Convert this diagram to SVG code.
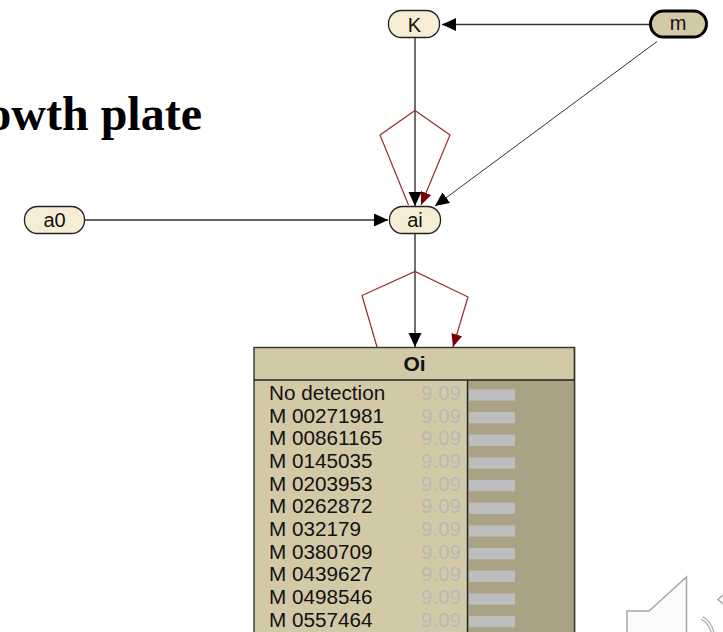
<svg xmlns="http://www.w3.org/2000/svg" width="723" height="632" viewBox="0 0 723 632">
<defs>
<marker id="ab" markerUnits="userSpaceOnUse" markerWidth="15" markerHeight="14" refX="14" refY="6.5" orient="auto"><path d="M0,0 L14,6.5 L0,13 Z" fill="#000"/></marker>
<marker id="ar" markerUnits="userSpaceOnUse" markerWidth="15" markerHeight="12" refX="13" refY="5.5" orient="auto"><path d="M0,0 L13,5.5 L0,11 Z" fill="#7a0000"/></marker>
</defs>
<style>
text{font-family:"Liberation Sans",Arial,sans-serif;fill:#111}
.n{font-size:20px;text-anchor:middle}
.node{fill:#f6edd4;stroke:#222;stroke-width:1.3}
.c{fill:none;stroke:#333;stroke-width:1.4}
.thin{stroke-width:1}
.r{fill:none;stroke:#9c2a2a;stroke-width:1.2}
.lab text{font-size:20.700px}
.val text{font-size:20.500px;fill:#b9b9b4;text-anchor:end}
.bar{fill:#bdbdbd}
.sp{fill:#fbfbfb;stroke:#a8a8a8;stroke-width:1.500}
</style>
<rect width="723" height="632" fill="#fff"/>
<text x="202" y="130" text-anchor="end" style="font-family:'Liberation Serif',serif;font-size:48px;font-weight:bold;fill:#000">owth plate</text>
<g id="connectors">
<path class="c" d="M650,24.500H442" marker-end="url(#ab)"/>
<path class="c" d="M415,37V206" marker-end="url(#ab)"/>
<path class="c thin" d="M657,41.500L435,206" marker-end="url(#ab)"/>
<path class="c" d="M85,220H388" marker-end="url(#ab)"/>
<path class="c" d="M415,233V347" marker-end="url(#ab)"/>
<path class="r" d="M408.500,205L380,135L415,110.500L450,135L421,205" marker-end="url(#ar)"/>
<path class="r" d="M377,347L362,295.500L415,271.500L468,297L453,347" marker-end="url(#ar)"/>
</g>
<g id="node-K"><rect class="node" x="388.500" y="10.500" width="51" height="27" rx="13"/><text class="n" x="414.500" y="31.500">K</text></g>
<g id="node-m"><rect x="650.500" y="11" width="56" height="26" rx="13" fill="#d2c9a6" stroke="#000" stroke-width="3"/><text class="n" x="678" y="30">m</text></g>
<g id="node-ai"><rect class="node" x="389.500" y="206.500" width="51" height="27" rx="13"/><text class="n" x="415" y="227">ai</text></g>
<g id="node-a0"><rect class="node" x="24.500" y="206.500" width="60" height="27" rx="13"/><text class="n" x="54.500" y="227">a0</text></g>
<g id="node-Oi">
<rect x="254" y="347.500" width="320.500" height="295" fill="#d2c9a6" stroke="#333" stroke-width="1.4"/>
<rect x="468" y="380" width="106.500" height="262" fill="#a9a285"/>
<path d="M254,380H574.500M467.500,380V642" stroke="#222" stroke-width="1.4" fill="none"/>
<path d="M574.500,347.500V642" stroke="#333" stroke-width="1.4" fill="none"/>
<text x="414.500" y="371" text-anchor="middle" style="font-size:21px;font-weight:bold">Oi</text>
<g class="lab">
<text x="269" y="400">No detection</text>
<text x="269" y="422.700">M 00271981</text>
<text x="269" y="445.300">M 00861165</text>
<text x="269" y="468">M 0145035</text>
<text x="269" y="490.700">M 0203953</text>
<text x="269" y="513.300">M 0262872</text>
<text x="269" y="536">M 032179</text>
<text x="269" y="558.700">M 0380709</text>
<text x="269" y="581.300">M 0439627</text>
<text x="269" y="604">M 0498546</text>
<text x="269" y="626.700">M 0557464</text>
</g>
<g class="val">
<text x="461" y="400">9.09</text>
<text x="461" y="422.700">9.09</text>
<text x="461" y="445.300">9.09</text>
<text x="461" y="468">9.09</text>
<text x="461" y="490.700">9.09</text>
<text x="461" y="513.300">9.09</text>
<text x="461" y="536">9.09</text>
<text x="461" y="558.700">9.09</text>
<text x="461" y="581.300">9.09</text>
<text x="461" y="604">9.09</text>
<text x="461" y="626.700">9.09</text>
</g>
<g class="bar">
<rect x="469" y="389.300" width="46" height="11.300"/>
<rect x="469" y="412" width="46" height="11.300"/>
<rect x="469" y="434.600" width="46" height="11.300"/>
<rect x="469" y="457.300" width="46" height="11.300"/>
<rect x="469" y="480" width="46" height="11.300"/>
<rect x="469" y="502.600" width="46" height="11.300"/>
<rect x="469" y="525.300" width="46" height="11.300"/>
<rect x="469" y="548" width="46" height="11.300"/>
<rect x="469" y="570.600" width="46" height="11.300"/>
<rect x="469" y="593.300" width="46" height="11.300"/>
<rect x="469" y="616" width="46" height="11.300"/>
</g>
</g>
<path class="sp" d="M627,640V611H649L686.500,577V640"/>
<path d="M702,618Q710,622 713,634" fill="none" stroke="#a8a8a8" stroke-width="4"/>
<path d="M702,618Q710,622 713,634" fill="none" stroke="#fff" stroke-width="1.500"/>
<path d="M723,595L718,599.500L723,604" fill="none" stroke="#a8a8a8" stroke-width="1.500"/>
</svg>
